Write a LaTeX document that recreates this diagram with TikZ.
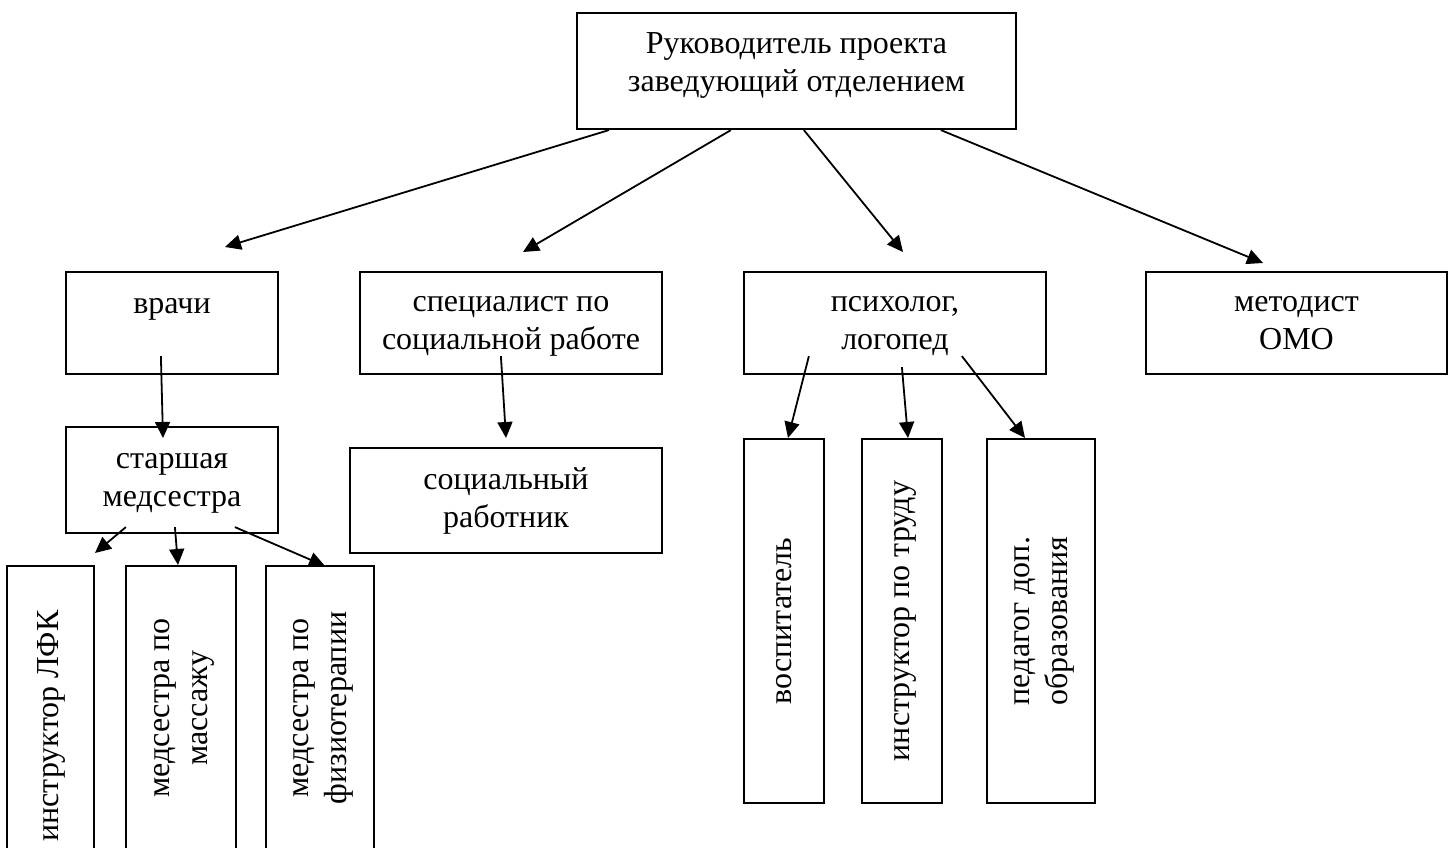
\documentclass[tikz,border=0pt]{standalone}
\usepackage{fontspec}
\setmainfont{Liberation Serif}
\usetikzlibrary{arrows.meta,calc}
\begin{document}
\begin{tikzpicture}[x=1pt,y=-1pt,
  box/.style={draw, line width=2.2pt, rectangle, inner sep=0pt},
  txt/.style={font=\fontsize{32}{38}\selectfont, align=center, inner sep=0pt},
  arr/.style={line width=1.8pt, -{Triangle[length=16pt,width=15pt]}}]
\fill[white] (0,0) rectangle (1453,848);
\useasboundingbox (0,0) rectangle (1453,848);
\clip (0,0) rectangle (1453,848);

% boxes
\node[box, minimum width=439pt, minimum height=116pt] (top) at (796.5,71) {};
\node[box, minimum width=212pt, minimum height=102pt] (vrachi) at (172,323) {};
\node[box, minimum width=302pt, minimum height=102pt] (spec) at (511,323) {};
\node[box, minimum width=302pt, minimum height=102pt] (psych) at (895,323) {};
\node[box, minimum width=301pt, minimum height=102pt] (metod) at (1296.5,323) {};
\node[box, minimum width=212pt, minimum height=106pt] (starsh) at (172,480) {};
\node[box, minimum width=312pt, minimum height=105pt] (socrab) at (506,500.5) {};
\node[box, minimum width=80pt, minimum height=364pt] (vosp) at (784,621) {};
\node[box, minimum width=80pt, minimum height=364pt] (instr) at (902,621) {};
\node[box, minimum width=108pt, minimum height=364pt] (ped) at (1041,621) {};
\node[box, minimum width=87pt, minimum height=320pt] (lfk) at (50.5,726) {};
\node[box, minimum width=110pt, minimum height=284pt] (mass) at (181,708) {};
\node[box, minimum width=108pt, minimum height=284pt] (fizio) at (320,708) {};

% texts
\node[txt] (ttop) at (796.5,65.4) {\strut Руководитель проекта\\заведующий отделением\strut};
\node[txt, anchor=base] (tvrachi) at (172,313) {врачи};
\node[txt] (tspec) at (spec.center) {\strut специалист по\\социальной работе\strut};
\node[txt] (tpsych) at (psych.center) {\strut психолог,\\логопед\strut};
\node[txt] (tmetod) at (metod.center) {\strut методист\\ОМО\strut};
\node[txt] (tstarsh) at (starsh.center) {\strut старшая\\медсестра\strut};
\node[txt] (tsocrab) at (socrab.center) {\strut социальный\\работник\strut};
\node[txt, rotate=90] (tvosp) at (vosp.center) {\strut воспитатель};
\node[txt, rotate=90] (tinstr) at (instr.center) {\strut инструктор по труду};
\node[txt, rotate=90] (tped) at (ped.center) {\strut педагог доп.\\образования\strut};
\node[txt, rotate=90] (tlfk) at (lfk.center) {\strut инструктор ЛФК};
\node[txt, rotate=90] (tmass) at (mass.center) {\strut медсестра по\\массажу\strut};
\node[txt, rotate=90] (tfizio) at (fizio.center) {\strut медсестра по\\физиотерапии\strut};

% free arrow ends
\coordinate (e1) at (225,247);
\coordinate (e2) at (523,252);
\coordinate (e3) at (903,252);
\coordinate (e4) at (1263,263);
\coordinate (e5) at (163,438);
\coordinate (e6) at (506,438);
\coordinate (e7) at (788,438);
\coordinate (e8) at (908,438);
\coordinate (e9) at (1025,438);
\coordinate (e10) at (95,553);
\coordinate (e11) at (178,565);
\coordinate (e12) at (325,566);

% connectors
\draw[arr] ($(top.south west)+(33,0)$) -- (e1);
\draw[arr] ($(top.south west)+(155,0)$) -- (e2);
\draw[arr] ($(top.south west)+(228,0)$) -- (e3);
\draw[arr] ($(top.south west)+(365,0)$) -- (e4);
\draw[arr] ($(vrachi.south west)+(96,-19)$) -- (e5);
\draw[arr] ($(spec.south west)+(142,-19)$) -- (e6);
\draw[arr] ($(psych.south west)+(66,-19)$) -- (e7);
\draw[arr] ($(psych.south west)+(159,-8)$) -- (e8);
\draw[arr] ($(psych.south west)+(219,-19)$) -- (e9);
\draw[arr] ($(starsh.south west)+(61,-7)$) -- (e10);
\draw[arr] ($(starsh.south west)+(110,-7)$) -- (e11);
\draw[arr] ($(starsh.south west)+(170,-7)$) -- (e12);
\end{tikzpicture}
\end{document}
